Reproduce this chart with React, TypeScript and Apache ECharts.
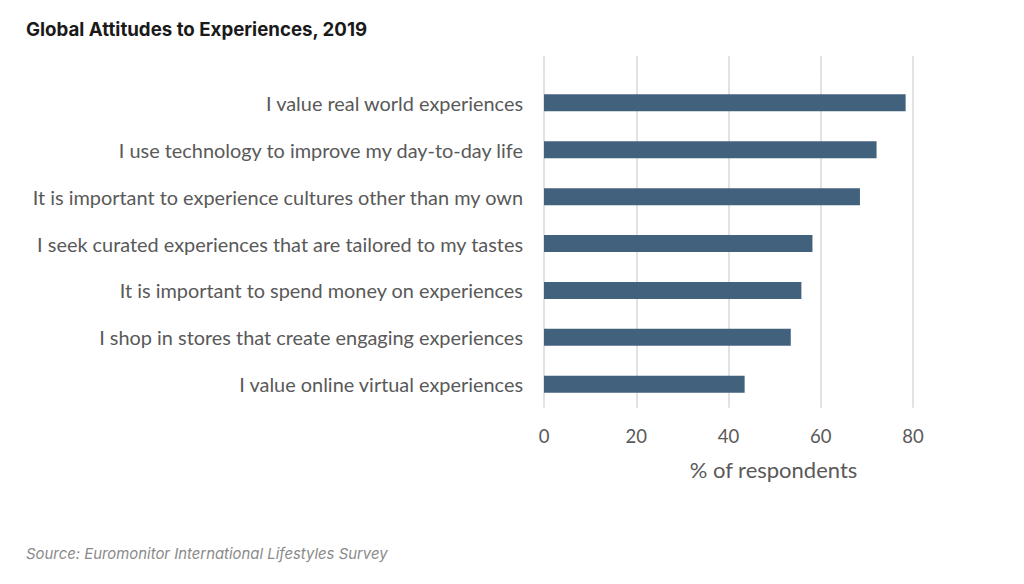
import React, { useEffect, useRef } from "react";
import * as echarts from "echarts";

const categories = [
  "I value real world experiences",
  "I use technology to improve my day-to-day life",
  "It is important to experience cultures other than my own",
  "I seek curated experiences that are tailored to my tastes",
  "It is important to spend money on experiences",
  "I shop in stores that create engaging experiences",
  "I value online virtual experiences",
];
const values = [78.4, 72.1, 68.5, 58.2, 55.8, 53.5, 43.5];
const xMin = 0;
const xMax = 80;
const xInterval = 20;

const titleText = "Global Attitudes to Experiences, 2019";
const sourceText = "Source: Euromonitor International Lifestyles Survey";
const axisName = "% of respondents";

export default function App() {
  const ref = useRef<HTMLDivElement>(null);
  useEffect(() => {
    if (!ref.current) return;
    const chart = echarts.init(ref.current, undefined, { renderer: "svg" });
    const labelFont = "Lato, 'Open Sans', sans-serif";
    const gridColor = "#d9d9d9";
    chart.setOption({
      animation: false,
      backgroundColor: "#ffffff",
      title: [
        {
          text: titleText,
          left: 21,
          top: 15,
          textStyle: {
            fontFamily: "Inter, Lato, sans-serif",
            fontWeight: "bold",
            fontSize: 18.7,
            color: "#1a1a1a",
          },
        },
        {
          text: sourceText,
          left: 21,
          top: 541,
          textStyle: {
            fontFamily: "Inter, Lato, sans-serif",
            fontStyle: "italic",
            fontWeight: "normal",
            fontSize: 14.9,
            color: "#8a8a8a",
          },
        },
      ],
      grid: [
        { left: 544, right: 111, top: 79.4, height: 328.3, containLabel: false },
        { left: 544, right: 111, top: 56, height: 23.4, containLabel: false },
      ],
      xAxis: [
        {
          type: "value",
          gridIndex: 0,
          min: xMin,
          max: xMax,
          interval: xInterval,
          axisLine: { show: false },
          axisTick: { show: false },
          splitLine: { show: true, lineStyle: { color: gridColor, width: 1.5 } },
          axisLabel: {
            margin: 19,
            fontFamily: labelFont,
            fontSize: 18.5,
            color: "#595959",
          },
          name: axisName,
          nameLocation: "middle",
          nameGap: 51,
          nameTextStyle: {
            fontFamily: labelFont,
            fontSize: 22,
            color: "#595959",
            padding: [0, 0, 0, 90],
          },
        },
        {
          type: "value",
          gridIndex: 1,
          min: xMin,
          max: xMax,
          interval: xInterval,
          axisLine: { show: false },
          axisTick: { show: false },
          axisLabel: { show: false },
          splitLine: { show: true, lineStyle: { color: gridColor, width: 1.5 } },
        },
      ],
      yAxis: [
        {
          type: "category",
          gridIndex: 0,
          data: categories,
          inverse: true,
          axisLine: { show: false },
          axisTick: { show: false },
          splitLine: { show: false },
          axisLabel: {
            margin: 21,
            fontFamily: labelFont,
            fontSize: 19.9,
            color: "#595959",
          },
        },
        {
          type: "category",
          gridIndex: 1,
          data: [""],
          show: false,
        },
      ],
      series: [
        {
          type: "bar",
          xAxisIndex: 0,
          yAxisIndex: 0,
          data: values,
          barWidth: 17,
          itemStyle: { color: "#42617d" },
        },
      ],
    });
    return () => chart.dispose();
  }, []);
  return (
    <div
      ref={ref}
      style={{ position: "fixed", left: 0, top: 0, width: 1024, height: 584 }}
    />
  );
}
